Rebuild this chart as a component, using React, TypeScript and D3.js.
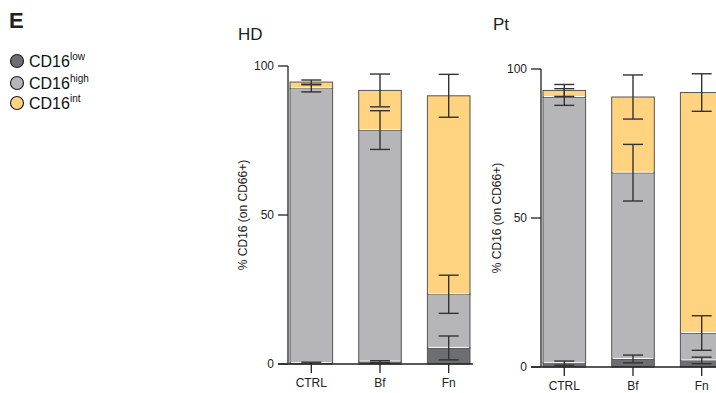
import React from "react"
import * as d3 from "d3"

const categories = ["CTRL", "Bf", "Fn"]
const seriesKeys = ["low", "high", "int"]

// HD panel segment values (% of CD66+) and SD
const hdLow = [0.3, 0.8, 5.4]
const hdHigh = [92.2, 77.7, 18.0]
const hdInt = [2.1, 13.3, 66.6]
const hdLowErr = [0.3, 0.3, 4.0]
const hdHighErr = [1.2, 6.5, 6.4]
const hdIntErr = [0.7, 5.5, 7.2]

// Pt panel
const ptLow = [1.3, 2.7, 2.2]
const ptHigh = [89.3, 62.5, 9.2]
const ptInt = [2.2, 25.4, 80.7]
const ptLowErr = [0.7, 1.3, 1.1]
const ptHighErr = [2.8, 9.5, 5.8]
const ptIntErr = [2.0, 7.4, 6.3]

const yTicks = [0, 50, 100]

const colors = { low: "#6d6e71", high: "#b6b6b8", int: "#ffd37f" }
const font = "'Liberation Sans', Arial, sans-serif"

function Panel({ title, low, high, int, lowErr, highErr, intErr, axisX, y0, y100, titleX, titleY, labelX }) {
  const rows = categories.map((c, i) => ({ cat: c, low: low[i], high: high[i], int: int[i] }))
  const errs = { low: lowErr, high: highErr, int: intErr }
  const stacked = d3.stack().keys(seriesKeys)(rows)

  const x = d3.scaleBand().domain(categories).range([axisX + 2, axisX + 182]).paddingInner(0.38).paddingOuter(0)
  const y = d3.scaleLinear().domain([0, 100]).range([y0, y100])
  const bw = x.bandwidth()

  return (
    <g>
      <text x={titleX} y={titleY} fontSize={17} fontFamily={font} fill="#222">{title}</text>
      <text
        transform={`translate(${labelX},${(y0 + y100) / 2}) rotate(-90)`}
        textAnchor="middle"
        fontSize={12}
        fontFamily={font}
        fill="#222"
      >
        % CD16 (on CD66+)
      </text>
      {/* bars */}
      {stacked.map((s) => (
        <g key={s.key}>
          {s.map((d, i) => (
            <rect
              key={i}
              x={x(categories[i])}
              y={y(d[1])}
              width={bw}
              height={Math.max(0, y(d[0]) - y(d[1]))}
              fill={colors[s.key]}
              stroke="#555"
              strokeWidth={1}
            />
          ))}
        </g>
      ))}
      {/* separators between segments */}
      {stacked.slice(0, 2).map((s) =>
        s.map((d, i) => (
          <line
            key={s.key + i}
            x1={x(categories[i]) + 1}
            x2={x(categories[i]) + bw - 1}
            y1={y(d[1]) - 0.5}
            y2={y(d[1]) - 0.5}
            stroke="#fff"
            strokeWidth={1}
          />
        ))
      )}
      {/* error bars */}
      {stacked.map((s) =>
        s.map((d, i) => {
          const e = errs[s.key][i]
          const cx = x(categories[i]) + bw / 2
          const hi = Math.min(100.5, d[1] + e)
          const lo = Math.max(0, d[1] - e)
          return (
            <g key={s.key + "e" + i} stroke="#333" strokeWidth={1.4}>
              <line x1={cx} x2={cx} y1={y(hi)} y2={y(lo)} />
              <line x1={cx - 10} x2={cx + 10} y1={y(hi)} y2={y(hi)} />
              {lo > 0 && <line x1={cx - 10} x2={cx + 10} y1={y(lo)} y2={y(lo)} />}
            </g>
          )
        })
      )}
      {/* y axis */}
      <line x1={axisX} x2={axisX} y1={y(100)} y2={y(0)} stroke="#222" strokeWidth={1.3} />
      {yTicks.map((t) => (
        <g key={t}>
          <line x1={axisX - 10} x2={axisX} y1={y(t)} y2={y(t)} stroke="#222" strokeWidth={1.3} />
          <text x={axisX - 14} y={y(t) + 4} textAnchor="end" fontSize={12} fontFamily={font} fill="#222">
            {t}
          </text>
        </g>
      ))}
      {/* x axis */}
      <line x1={axisX - 10} x2={axisX + 185} y1={y(0)} y2={y(0)} stroke="#222" strokeWidth={1.3} />
      {categories.map((c) => (
        <g key={c}>
          <line x1={x(c) + bw / 2} x2={x(c) + bw / 2} y1={y(0)} y2={y(0) + 9} stroke="#222" strokeWidth={1.3} />
          <text x={x(c) + bw / 2} y={y(0) + 23} textAnchor="middle" fontSize={12} fontFamily={font} fill="#222">
            {c}
          </text>
        </g>
      ))}
    </g>
  )
}

const legend = [
  { key: "low", sup: "low", cy: 61, by: 67 },
  { key: "high", sup: "high", cy: 83, by: 89 },
  { key: "int", sup: "int", cy: 103, by: 109 },
]

export default function App() {
  return (
    <svg width={716} height={393} style={{ position: "absolute", left: 0, top: 0 }}>
      <rect width={716} height={393} fill="#fff" />
      <text x={9} y={28} fontSize={22} fontWeight="bold" fontFamily={font} fill="#222">E</text>
      {legend.map((l) => (
        <g key={l.key}>
          <circle cx={17} cy={l.cy} r={6.5} fill={colors[l.key]} stroke="#222" strokeWidth={1.2} />
          <text x={29} y={l.by} fontSize={16} fontFamily={font} fill="#111">
            CD16
            <tspan fontSize={10} dy={-7}>{l.sup}</tspan>
          </text>
        </g>
      ))}
      <Panel
        title="HD"
        low={hdLow}
        high={hdHigh}
        int={hdInt}
        lowErr={hdLowErr}
        highErr={hdHighErr}
        intErr={hdIntErr}
        axisX={288}
        y0={364}
        y100={66}
        titleX={238}
        titleY={40}
        labelX={247}
      />
      <Panel
        title="Pt"
        low={ptLow}
        high={ptHigh}
        int={ptInt}
        lowErr={ptLowErr}
        highErr={ptHighErr}
        intErr={ptIntErr}
        axisX={541}
        y0={367}
        y100={69}
        titleX={493}
        titleY={30}
        labelX={501}
      />
    </svg>
  )
}
